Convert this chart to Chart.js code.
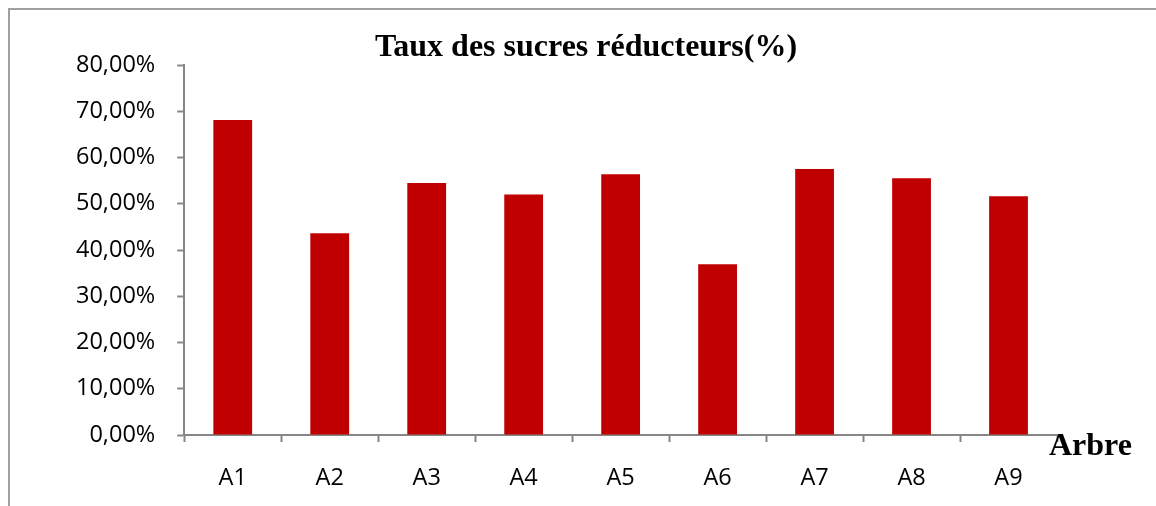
<!DOCTYPE html>
<html lang="fr">
<head>
<meta charset="utf-8">
<title>Taux des sucres réducteurs</title>
<script src="https://cdn.jsdelivr.net/npm/chart.js@4.4.1/dist/chart.umd.min.js"></script>
<style>
  html, body { margin: 0; padding: 0; background: #fff; }
  #wrap { width: 1156px; height: 506px; position: relative; }
</style>
</head>
<body>
<div id="wrap"><canvas id="chart" width="1156" height="506"></canvas></div>
<script>
// ========================================
// Data
// ========================================
const categories = ['A1', 'A2', 'A3', 'A4', 'A5', 'A6', 'A7', 'A8', 'A9'];
const sugarRates = [68.1, 43.6, 54.5, 52.0, 56.4, 36.9, 57.5, 55.5, 51.6];
const yTicks = [0, 10, 20, 30, 40, 50, 60, 70, 80];

const chartTitle = 'Taux des sucres réducteurs(%)';
const xAxisTitle = 'Arbre';

const axisColor = '#868686';
const barColor = '#C00000';

// ========================================
// Plugins (frame, title, axis name)
// ========================================
const decorations = {
    id: 'decorations',
    beforeDraw(chart) {
        const ctx = chart.ctx;
        ctx.save();
        ctx.strokeStyle = '#a0a0a0';
        ctx.lineWidth = 2;
        ctx.beginPath();
        ctx.moveTo(9, 506);
        ctx.lineTo(9, 9);
        ctx.lineTo(1156, 9);
        ctx.stroke();
        ctx.restore();
    },
    afterDraw(chart) {
        const ctx = chart.ctx;
        const area = chart.chartArea;
        ctx.save();
        ctx.fillStyle = '#000';
        ctx.font = 'bold 32px "Liberation Serif", "Times New Roman", serif';
        ctx.textAlign = 'center';
        ctx.textBaseline = 'middle';
        ctx.fillText(chartTitle, 586, 48);

        ctx.textAlign = 'left';
        ctx.fillText(xAxisTitle, area.right - 8, area.bottom + 12);
        ctx.restore();
    }
};

// ========================================
// Chart
// ========================================
const fmtPct = v => v.toFixed(2).replace('.', ',') + '%';

new Chart(document.getElementById('chart'), {
    type: 'bar',
    data: {
        labels: categories,
        datasets: [{
            label: chartTitle,
            data: sugarRates,
            backgroundColor: barColor,
            borderWidth: 0,
            barPercentage: 0.4,
            categoryPercentage: 1.0
        }]
    },
    options: {
        responsive: false,
        animation: false,
        layout: { padding: { top: 65, right: 99, bottom: 0, left: 54 } },
        plugins: {
            legend: { display: false },
            title: { display: false },
            tooltip: { enabled: false }
        },
        scales: {
            x: {
                afterFit(scale) {
                    scale.height = 71;   // axis line sits at ~435px
                },
                grid: {
                    display: true,
                    drawOnChartArea: false,
                    drawTicks: true,
                    tickLength: 7,
                    tickColor: axisColor,
                    tickWidth: 2,
                    offset: true
                },
                border: { color: axisColor, width: 2 },
                ticks: {
                    color: '#000',
                    padding: 22,
                    font: { family: '"Open Sans", sans-serif', size: 23.5 }
                }
            },
            y: {
                min: 0,
                max: 80,
                afterBuildTicks(scale) {
                    scale.ticks = yTicks.map(v => ({ value: v }));
                },
                grid: {
                    display: true,
                    drawOnChartArea: false,
                    drawTicks: true,
                    tickLength: 7,
                    tickColor: axisColor,
                    tickWidth: 2
                },
                border: { color: axisColor, width: 2 },
                ticks: {
                    color: '#000',
                    padding: 22,
                    font: { family: '"Open Sans", sans-serif', size: 23.5 },
                    callback: v => fmtPct(v)
                }
            }
        }
    },
    plugins: [decorations]
});
</script>
</body>
</html>
